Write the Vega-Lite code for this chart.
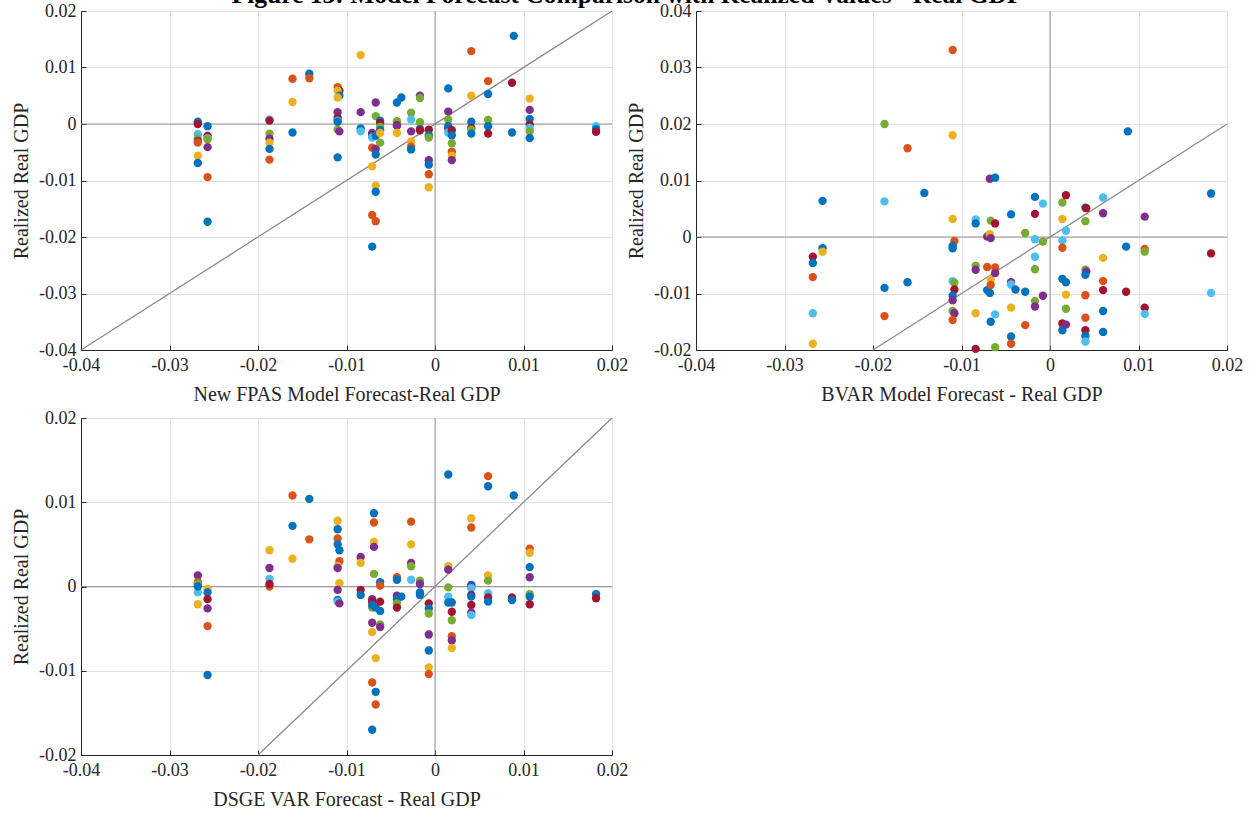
{
  "$schema": "https://vega.github.io/schema/vega-lite/v6.json",
  "background": "white",
  "padding": {"left": 11, "top": -18, "right": 5, "bottom": 5},
  "title": {"text": "Figure 13: Model Forecast Comparison with Realized Values - Real GDP", "font": "Liberation Serif", "fontSize": 25.5, "fontWeight": "bold", "color": "#000000", "anchor": "middle", "offset": -6},
  "config": {
    "view": {"stroke": null},
    "axis": {"labelFont": "Liberation Serif", "labelFontSize": 18, "labelColor": "#262626", "titleFont": "Liberation Serif", "titleFontSize": 20, "titleFontWeight": "normal", "titleColor": "#262626", "domainColor": "#262626", "tickColor": "#262626", "tickSize": -5, "gridColor": "#e2e2e2", "gridWidth": 1, "labelFlush": false, "labelExpr": "replace(format(datum.value, '.2~f'), '−', '-')"},
    "axisX": {"titlePadding": 10, "labelPadding": 11},
    "axisY": {"titlePadding": 7, "labelPadding": 10}
  },
  "datasets": {
    "p1": [
      {"x":-0.0268,"y":0.0004,"c":"b"},{"x":-0.0268,"y":0.0,"c":"r"},{"x":-0.0268,"y":-0.0018,"c":"l"},{"x":-0.0268,"y":-0.0025,"c":"g"},{"x":-0.0268,"y":-0.003,"c":"p"},{"x":-0.0268,"y":-0.0033,"c":"o"},{"x":-0.0268,"y":-0.0056,"c":"y"},{"x":-0.0268,"y":-0.0069,"c":"b"},
      {"x":-0.0257,"y":-0.0004,"c":"b"},{"x":-0.0257,"y":-0.0021,"c":"r"},{"x":-0.0257,"y":-0.0025,"c":"l"},{"x":-0.0257,"y":-0.0027,"c":"g"},{"x":-0.0257,"y":-0.0041,"c":"p"},{"x":-0.0257,"y":-0.0094,"c":"o"},{"x":-0.0257,"y":-0.0173,"c":"b"},
      {"x":-0.0187,"y":0.0008,"c":"l"},{"x":-0.0187,"y":0.0006,"c":"r"},{"x":-0.0187,"y":-0.0017,"c":"g"},{"x":-0.0187,"y":-0.0026,"c":"p"},{"x":-0.0187,"y":-0.0033,"c":"y"},{"x":-0.0187,"y":-0.0044,"c":"b"},{"x":-0.0187,"y":-0.0063,"c":"o"},
      {"x":-0.0161,"y":0.008,"c":"o"},{"x":-0.0161,"y":0.0039,"c":"y"},{"x":-0.0161,"y":-0.0015,"c":"b"},
      {"x":-0.0142,"y":0.0089,"c":"b"},{"x":-0.0142,"y":0.0081,"c":"o"},
      {"x":-0.011,"y":0.0065,"c":"o"},{"x":-0.0108,"y":0.0059,"c":"r"},{"x":-0.011,"y":0.0059,"c":"y"},{"x":-0.0108,"y":0.005,"c":"b"},{"x":-0.011,"y":0.0047,"c":"y"},{"x":-0.011,"y":0.0021,"c":"p"},{"x":-0.011,"y":0.0011,"c":"r"},{"x":-0.011,"y":0.0006,"c":"l"},{"x":-0.011,"y":0.0004,"c":"b"},{"x":-0.011,"y":-0.001,"c":"g"},{"x":-0.0108,"y":-0.0013,"c":"p"},{"x":-0.011,"y":-0.0059,"c":"b"},
      {"x":-0.0084,"y":0.0122,"c":"y"},{"x":-0.0084,"y":0.0021,"c":"p"},{"x":-0.0084,"y":-0.0008,"c":"b"},{"x":-0.0084,"y":-0.0013,"c":"l"},
      {"x":-0.0071,"y":-0.0016,"c":"p"},{"x":-0.0071,"y":-0.002,"c":"r"},{"x":-0.0071,"y":-0.0022,"c":"b"},{"x":-0.0071,"y":-0.0024,"c":"l"},{"x":-0.0071,"y":-0.0042,"c":"o"},{"x":-0.0071,"y":-0.0075,"c":"y"},{"x":-0.0071,"y":-0.0161,"c":"o"},{"x":-0.0071,"y":-0.0217,"c":"b"},
      {"x":-0.0067,"y":0.0038,"c":"p"},{"x":-0.0067,"y":0.0014,"c":"g"},{"x":-0.0067,"y":-0.0021,"c":"b"},{"x":-0.0067,"y":-0.0044,"c":"p"},{"x":-0.0067,"y":-0.0054,"c":"b"},{"x":-0.0067,"y":-0.0109,"c":"y"},{"x":-0.0067,"y":-0.012,"c":"b"},{"x":-0.0067,"y":-0.0172,"c":"o"},
      {"x":-0.0062,"y":0.0006,"c":"b"},{"x":-0.0062,"y":0.0002,"c":"r"},{"x":-0.0062,"y":-0.0005,"c":"g"},{"x":-0.0062,"y":-0.0011,"c":"b"},{"x":-0.0062,"y":-0.0016,"c":"y"},{"x":-0.0062,"y":-0.0033,"c":"g"},
      {"x":-0.0043,"y":0.0038,"c":"b"},{"x":-0.0043,"y":0.0005,"c":"g"},{"x":-0.0043,"y":-0.0002,"c":"r"},{"x":-0.0043,"y":-0.0003,"c":"p"},{"x":-0.0043,"y":-0.0016,"c":"y"},
      {"x":-0.0038,"y":0.0047,"c":"b"},
      {"x":-0.0027,"y":0.002,"c":"g"},{"x":-0.0027,"y":0.0008,"c":"l"},{"x":-0.0027,"y":-0.0013,"c":"p"},{"x":-0.0027,"y":-0.0031,"c":"y"},{"x":-0.0027,"y":-0.004,"c":"o"},{"x":-0.0027,"y":-0.0045,"c":"b"},
      {"x":-0.0017,"y":0.005,"c":"p"},{"x":-0.0017,"y":0.0046,"c":"g"},{"x":-0.0017,"y":0.0003,"c":"g"},{"x":-0.0017,"y":-0.0009,"c":"b"},{"x":-0.0017,"y":-0.0011,"c":"r"},
      {"x":-0.0007,"y":-0.001,"c":"r"},{"x":-0.0007,"y":-0.002,"c":"b"},{"x":-0.0007,"y":-0.0024,"c":"g"},{"x":-0.0007,"y":-0.0064,"c":"p"},{"x":-0.0007,"y":-0.0072,"c":"b"},{"x":-0.0007,"y":-0.0089,"c":"o"},{"x":-0.0007,"y":-0.0112,"c":"y"},
      {"x":0.0015,"y":0.0063,"c":"b"},{"x":0.0015,"y":0.0022,"c":"p"},{"x":0.0015,"y":0.0008,"c":"g"},{"x":0.0015,"y":-0.0008,"c":"r"},{"x":0.0015,"y":-0.0004,"c":"b"},{"x":0.0015,"y":-0.0015,"c":"l"},
      {"x":0.0019,"y":-0.0011,"c":"r"},{"x":0.0019,"y":-0.002,"c":"b"},{"x":0.0019,"y":-0.0034,"c":"g"},{"x":0.0019,"y":-0.0049,"c":"o"},{"x":0.0019,"y":-0.0056,"c":"y"},{"x":0.0019,"y":-0.0064,"c":"p"},
      {"x":0.0041,"y":0.0129,"c":"o"},{"x":0.0041,"y":0.005,"c":"y"},{"x":0.0041,"y":0.0004,"c":"b"},{"x":0.0041,"y":-0.0007,"c":"r"},{"x":0.0041,"y":-0.001,"c":"g"},{"x":0.0041,"y":-0.0017,"c":"b"},
      {"x":0.006,"y":0.0076,"c":"o"},{"x":0.006,"y":0.0053,"c":"b"},{"x":0.006,"y":0.0007,"c":"g"},{"x":0.006,"y":-0.0004,"c":"b"},{"x":0.006,"y":-0.0017,"c":"r"},
      {"x":0.0089,"y":0.0156,"c":"b"},{"x":0.0087,"y":0.0073,"c":"r"},{"x":0.0087,"y":-0.0015,"c":"b"},
      {"x":0.0107,"y":0.0045,"c":"y"},{"x":0.0107,"y":0.0025,"c":"p"},{"x":0.0107,"y":0.0009,"c":"b"},{"x":0.0107,"y":-0.0001,"c":"r"},{"x":0.0107,"y":-0.0007,"c":"l"},{"x":0.0107,"y":-0.0013,"c":"g"},{"x":0.0107,"y":-0.0025,"c":"b"},
      {"x":0.0182,"y":-0.0004,"c":"l"},{"x":0.0182,"y":-0.0009,"c":"b"},{"x":0.0182,"y":-0.0014,"c":"r"}
    ],
    "p2": [
      {"x":-0.0268,"y":-0.0035,"c":"r"},{"x":-0.0268,"y":-0.0046,"c":"b"},{"x":-0.0268,"y":-0.0071,"c":"o"},{"x":-0.0268,"y":-0.0135,"c":"l"},{"x":-0.0268,"y":-0.0189,"c":"y"},
      {"x":-0.0257,"y":0.0064,"c":"b"},{"x":-0.0257,"y":-0.002,"c":"b"},{"x":-0.0257,"y":-0.0026,"c":"y"},
      {"x":-0.0187,"y":0.02,"c":"g"},{"x":-0.0187,"y":0.0063,"c":"l"},{"x":-0.0187,"y":-0.009,"c":"b"},{"x":-0.0187,"y":-0.014,"c":"o"},
      {"x":-0.0161,"y":0.0157,"c":"o"},{"x":-0.0161,"y":-0.008,"c":"b"},
      {"x":-0.0142,"y":0.0078,"c":"b"},
      {"x":-0.011,"y":0.0331,"c":"o"},{"x":-0.011,"y":0.018,"c":"y"},{"x":-0.011,"y":0.0032,"c":"y"},{"x":-0.0108,"y":-0.0007,"c":"o"},{"x":-0.011,"y":-0.0016,"c":"b"},{"x":-0.011,"y":-0.002,"c":"b"},{"x":-0.011,"y":-0.0078,"c":"l"},{"x":-0.0108,"y":-0.0081,"c":"g"},{"x":-0.0108,"y":-0.0093,"c":"r"},{"x":-0.011,"y":-0.0104,"c":"b"},{"x":-0.011,"y":-0.0112,"c":"p"},{"x":-0.011,"y":-0.0131,"c":"g"},{"x":-0.0108,"y":-0.0135,"c":"p"},{"x":-0.011,"y":-0.0147,"c":"o"},
      {"x":-0.0084,"y":0.0031,"c":"l"},{"x":-0.0084,"y":0.0024,"c":"b"},{"x":-0.0084,"y":-0.0051,"c":"g"},{"x":-0.0084,"y":-0.0058,"c":"p"},{"x":-0.0084,"y":-0.0135,"c":"y"},{"x":-0.0084,"y":-0.0198,"c":"r"},
      {"x":-0.0071,"y":0.0001,"c":"p"},{"x":-0.0071,"y":-0.0053,"c":"o"},{"x":-0.0071,"y":-0.0094,"c":"b"},
      {"x":-0.0068,"y":0.0103,"c":"p"},{"x":-0.0068,"y":0.0005,"c":"y"},{"x":-0.0067,"y":0.0029,"c":"g"},{"x":-0.0067,"y":-0.0002,"c":"p"},{"x":-0.0067,"y":-0.0075,"c":"y"},{"x":-0.0067,"y":-0.0085,"c":"o"},{"x":-0.0068,"y":-0.0099,"c":"b"},{"x":-0.0067,"y":-0.015,"c":"b"},
      {"x":-0.0062,"y":0.0105,"c":"b"},{"x":-0.0062,"y":0.0024,"c":"r"},{"x":-0.0062,"y":-0.0054,"c":"o"},{"x":-0.0062,"y":-0.0064,"c":"p"},{"x":-0.0062,"y":-0.0137,"c":"l"},{"x":-0.0062,"y":-0.0195,"c":"g"},
      {"x":-0.0044,"y":0.004,"c":"b"},{"x":-0.0044,"y":-0.008,"c":"p"},{"x":-0.0044,"y":-0.0084,"c":"l"},{"x":-0.0044,"y":-0.0125,"c":"y"},{"x":-0.0044,"y":-0.0176,"c":"b"},{"x":-0.0044,"y":-0.0189,"c":"o"},
      {"x":-0.0039,"y":-0.0093,"c":"b"},
      {"x":-0.0028,"y":0.0007,"c":"g"},{"x":-0.0028,"y":-0.0097,"c":"b"},{"x":-0.0028,"y":-0.0156,"c":"o"},
      {"x":-0.0017,"y":0.0071,"c":"b"},{"x":-0.0017,"y":0.0041,"c":"r"},{"x":-0.0017,"y":-0.0004,"c":"l"},{"x":-0.0017,"y":-0.0035,"c":"l"},{"x":-0.0017,"y":-0.0057,"c":"g"},{"x":-0.0017,"y":-0.0113,"c":"g"},{"x":-0.0017,"y":-0.0123,"c":"p"},
      {"x":-0.0008,"y":0.0059,"c":"l"},{"x":-0.0008,"y":-0.0008,"c":"g"},{"x":-0.0008,"y":-0.0104,"c":"p"},
      {"x":0.0014,"y":0.0061,"c":"g"},{"x":0.0014,"y":0.0032,"c":"y"},{"x":0.0014,"y":-0.0006,"c":"l"},{"x":0.0014,"y":-0.0019,"c":"o"},{"x":0.0014,"y":-0.0074,"c":"b"},{"x":0.0014,"y":-0.0153,"c":"r"},{"x":0.0014,"y":-0.0165,"c":"b"},
      {"x":0.0018,"y":0.0074,"c":"r"},{"x":0.0018,"y":0.0011,"c":"l"},{"x":0.0018,"y":-0.008,"c":"b"},{"x":0.0018,"y":-0.0102,"c":"y"},{"x":0.0018,"y":-0.0127,"c":"g"},{"x":0.0018,"y":-0.0155,"c":"p"},
      {"x":0.004,"y":0.0052,"c":"b"},{"x":0.0041,"y":0.0051,"c":"r"},{"x":0.004,"y":0.0028,"c":"g"},{"x":0.004,"y":-0.0058,"c":"g"},{"x":0.0041,"y":-0.0061,"c":"p"},{"x":0.004,"y":-0.0067,"c":"b"},{"x":0.004,"y":-0.0103,"c":"o"},{"x":0.004,"y":-0.0143,"c":"o"},{"x":0.004,"y":-0.0165,"c":"r"},{"x":0.004,"y":-0.0175,"c":"b"},{"x":0.004,"y":-0.0185,"c":"l"},
      {"x":0.006,"y":0.007,"c":"l"},{"x":0.006,"y":0.0042,"c":"p"},{"x":0.006,"y":-0.0037,"c":"y"},{"x":0.006,"y":-0.0078,"c":"o"},{"x":0.006,"y":-0.0094,"c":"r"},{"x":0.006,"y":-0.0131,"c":"b"},{"x":0.006,"y":-0.0168,"c":"b"},
      {"x":0.0088,"y":0.0187,"c":"b"},{"x":0.0086,"y":-0.0017,"c":"b"},{"x":0.0086,"y":-0.0097,"c":"r"},
      {"x":0.0107,"y":0.0036,"c":"p"},{"x":0.0107,"y":-0.0021,"c":"o"},{"x":0.0107,"y":-0.0026,"c":"g"},{"x":0.0107,"y":-0.0125,"c":"r"},{"x":0.0107,"y":-0.0136,"c":"l"},
      {"x":0.0182,"y":0.0077,"c":"b"},{"x":0.0182,"y":-0.0029,"c":"r"},{"x":0.0182,"y":-0.0099,"c":"l"}
    ],
    "p3": [
      {"x":-0.0268,"y":0.0013,"c":"p"},{"x":-0.0268,"y":0.0005,"c":"o"},{"x":-0.0268,"y":0.0003,"c":"g"},{"x":-0.0268,"y":-0.0007,"c":"l"},{"x":-0.0268,"y":0.0,"c":"b"},{"x":-0.0268,"y":-0.0021,"c":"y"},
      {"x":-0.0257,"y":-0.0003,"c":"y"},{"x":-0.0257,"y":-0.0007,"c":"b"},{"x":-0.0257,"y":-0.0015,"c":"r"},{"x":-0.0257,"y":-0.0026,"c":"p"},{"x":-0.0257,"y":-0.0047,"c":"o"},{"x":-0.0257,"y":-0.0105,"c":"b"},
      {"x":-0.0187,"y":0.0043,"c":"y"},{"x":-0.0187,"y":0.0022,"c":"p"},{"x":-0.0187,"y":0.0009,"c":"l"},{"x":-0.0187,"y":0.0,"c":"o"},{"x":-0.0187,"y":0.0003,"c":"r"},
      {"x":-0.0161,"y":0.0108,"c":"o"},{"x":-0.0161,"y":0.0072,"c":"b"},{"x":-0.0161,"y":0.0033,"c":"y"},
      {"x":-0.0142,"y":0.0104,"c":"b"},{"x":-0.0142,"y":0.0056,"c":"o"},
      {"x":-0.011,"y":0.0078,"c":"y"},{"x":-0.011,"y":0.0068,"c":"b"},{"x":-0.011,"y":0.0057,"c":"o"},{"x":-0.011,"y":0.005,"c":"b"},{"x":-0.0108,"y":0.0043,"c":"b"},{"x":-0.0108,"y":0.003,"c":"o"},{"x":-0.011,"y":0.0024,"c":"y"},{"x":-0.011,"y":0.0022,"c":"p"},{"x":-0.0108,"y":0.0004,"c":"y"},{"x":-0.011,"y":-0.0004,"c":"p"},{"x":-0.011,"y":-0.0016,"c":"b"},{"x":-0.011,"y":-0.0018,"c":"l"},{"x":-0.0108,"y":-0.002,"c":"p"},
      {"x":-0.0084,"y":0.0035,"c":"p"},{"x":-0.0084,"y":0.0028,"c":"y"},{"x":-0.0084,"y":-0.0004,"c":"r"},{"x":-0.0084,"y":-0.001,"c":"b"},
      {"x":-0.0071,"y":-0.0015,"c":"p"},{"x":-0.0071,"y":-0.0018,"c":"r"},{"x":-0.0071,"y":-0.0025,"c":"g"},{"x":-0.0071,"y":-0.0022,"c":"b"},{"x":-0.0071,"y":-0.0043,"c":"p"},{"x":-0.0071,"y":-0.0054,"c":"y"},{"x":-0.0071,"y":-0.0114,"c":"o"},{"x":-0.0071,"y":-0.017,"c":"b"},
      {"x":-0.0069,"y":0.0087,"c":"b"},{"x":-0.0069,"y":0.0076,"c":"o"},{"x":-0.0069,"y":0.0053,"c":"y"},{"x":-0.0069,"y":0.0047,"c":"p"},{"x":-0.0069,"y":0.0015,"c":"g"},{"x":-0.0067,"y":-0.0025,"c":"b"},{"x":-0.0067,"y":-0.0085,"c":"y"},{"x":-0.0067,"y":-0.0125,"c":"b"},{"x":-0.0067,"y":-0.014,"c":"o"},
      {"x":-0.0062,"y":0.0005,"c":"b"},{"x":-0.0062,"y":0.0001,"c":"o"},{"x":-0.0062,"y":-0.0018,"c":"r"},{"x":-0.0062,"y":-0.0029,"c":"b"},{"x":-0.0062,"y":-0.0045,"c":"g"},{"x":-0.0062,"y":-0.0048,"c":"p"},
      {"x":-0.0043,"y":0.0011,"c":"o"},{"x":-0.0043,"y":0.0008,"c":"b"},{"x":-0.0043,"y":-0.0011,"c":"p"},{"x":-0.0043,"y":-0.0015,"c":"b"},{"x":-0.0043,"y":-0.002,"c":"g"},{"x":-0.0043,"y":-0.0025,"c":"r"},
      {"x":-0.0038,"y":-0.0012,"c":"b"},
      {"x":-0.0027,"y":0.0077,"c":"o"},{"x":-0.0027,"y":0.005,"c":"y"},{"x":-0.0027,"y":0.0028,"c":"p"},{"x":-0.0027,"y":0.0024,"c":"g"},{"x":-0.0027,"y":0.0008,"c":"l"},
      {"x":-0.0017,"y":0.0007,"c":"g"},{"x":-0.0017,"y":0.0003,"c":"p"},{"x":-0.0017,"y":-0.0007,"c":"b"},{"x":-0.0017,"y":-0.001,"c":"b"},
      {"x":-0.0007,"y":-0.002,"c":"r"},{"x":-0.0007,"y":-0.0026,"c":"b"},{"x":-0.0007,"y":-0.0032,"c":"g"},{"x":-0.0007,"y":-0.0057,"c":"p"},{"x":-0.0007,"y":-0.0076,"c":"b"},{"x":-0.0007,"y":-0.0096,"c":"y"},{"x":-0.0007,"y":-0.0104,"c":"o"},
      {"x":0.0015,"y":0.0133,"c":"b"},{"x":0.0015,"y":0.0024,"c":"y"},{"x":0.0015,"y":0.002,"c":"p"},{"x":0.0015,"y":-0.0001,"c":"g"},{"x":0.0015,"y":-0.0012,"c":"l"},{"x":0.0015,"y":-0.0019,"c":"b"},
      {"x":0.0019,"y":-0.0019,"c":"b"},{"x":0.0019,"y":-0.003,"c":"r"},{"x":0.0019,"y":-0.004,"c":"g"},{"x":0.0019,"y":-0.0059,"c":"o"},{"x":0.0019,"y":-0.0064,"c":"p"},{"x":0.0019,"y":-0.0073,"c":"y"},
      {"x":0.0041,"y":0.0081,"c":"y"},{"x":0.0041,"y":0.007,"c":"o"},{"x":0.0041,"y":0.0002,"c":"b"},{"x":0.0041,"y":0.0,"c":"p"},{"x":0.0041,"y":-0.0002,"c":"l"},{"x":0.0041,"y":-0.001,"c":"r"},{"x":0.0041,"y":-0.0012,"c":"b"},{"x":0.0041,"y":-0.0022,"c":"r"},{"x":0.0041,"y":-0.0031,"c":"p"},{"x":0.0041,"y":-0.0034,"c":"l"},
      {"x":0.006,"y":0.0131,"c":"o"},{"x":0.006,"y":0.0119,"c":"b"},{"x":0.006,"y":0.0013,"c":"y"},{"x":0.006,"y":0.0007,"c":"g"},{"x":0.006,"y":-0.0008,"c":"l"},{"x":0.006,"y":-0.0013,"c":"r"},{"x":0.006,"y":-0.0018,"c":"b"},
      {"x":0.0089,"y":0.0108,"c":"b"},{"x":0.0087,"y":-0.0013,"c":"r"},{"x":0.0087,"y":-0.0016,"c":"b"},
      {"x":0.0107,"y":0.0045,"c":"o"},{"x":0.0107,"y":0.004,"c":"y"},{"x":0.0107,"y":0.0023,"c":"b"},{"x":0.0107,"y":0.0011,"c":"p"},{"x":0.0107,"y":-0.0009,"c":"g"},{"x":0.0107,"y":-0.0012,"c":"b"},{"x":0.0107,"y":-0.0021,"c":"r"},
      {"x":0.0182,"y":-0.0009,"c":"b"},{"x":0.0182,"y":-0.0014,"c":"r"}
    ]
  },
  "columns": 2,
  "spacing": {"column": -2, "row": 5},
  "concat": [
    {
      "width": 531, "height": 339,
      "layer": [
        {"data": {"values": [{"x": 0}]}, "mark": {"type": "rule", "color": "#7f7f7f", "strokeWidth": 0.8}, "encoding": {"x": {"field": "x", "type": "quantitative"}}},
        {"data": {"values": [{"y": 0}]}, "mark": {"type": "rule", "color": "#7f7f7f", "strokeWidth": 0.8}, "encoding": {"y": {"field": "y", "type": "quantitative"}}},
        {"data": {"values": [{"x": -0.04, "y": -0.04, "x2": 0.02, "y2": 0.02}]}, "mark": {"type": "rule", "color": "#8a8a8a", "strokeWidth": 1.3}, "encoding": {"x": {"field": "x", "type": "quantitative"}, "y": {"field": "y", "type": "quantitative"}, "x2": {"field": "x2"}, "y2": {"field": "y2"}}},
        {"data": {"name": "p1"}, "mark": {"type": "circle", "size": 70, "opacity": 1},
         "encoding": {
           "x": {"field": "x", "type": "quantitative", "scale": {"domain": [-0.04, 0.02], "nice": false, "zero": false}, "axis": {"title": "New FPAS Model Forecast-Real GDP", "values": [-0.04, -0.03, -0.02, -0.01, 0, 0.01, 0.02]}},
           "y": {"field": "y", "type": "quantitative", "scale": {"domain": [-0.04, 0.02], "nice": false, "zero": false}, "axis": {"title": "Realized Real GDP", "values": [-0.04, -0.03, -0.02, -0.01, 0, 0.01, 0.02]}},
           "color": {"field": "c", "type": "nominal", "legend": null, "scale": {"domain": ["b", "o", "y", "p", "g", "l", "r"], "range": ["#0072BD", "#D95319", "#EDB120", "#7E2F8E", "#77AC30", "#4DBEEE", "#A2142F"]}}
         }}
      ]
    },
    {
      "width": 531, "height": 339,
      "layer": [
        {"data": {"values": [{"x": 0}]}, "mark": {"type": "rule", "color": "#7f7f7f", "strokeWidth": 0.8}, "encoding": {"x": {"field": "x", "type": "quantitative"}}},
        {"data": {"values": [{"y": 0}]}, "mark": {"type": "rule", "color": "#7f7f7f", "strokeWidth": 0.8}, "encoding": {"y": {"field": "y", "type": "quantitative"}}},
        {"data": {"values": [{"x": -0.02, "y": -0.02, "x2": 0.02, "y2": 0.02}]}, "mark": {"type": "rule", "color": "#8a8a8a", "strokeWidth": 1.3}, "encoding": {"x": {"field": "x", "type": "quantitative"}, "y": {"field": "y", "type": "quantitative"}, "x2": {"field": "x2"}, "y2": {"field": "y2"}}},
        {"data": {"name": "p2"}, "mark": {"type": "circle", "size": 70, "opacity": 1},
         "encoding": {
           "x": {"field": "x", "type": "quantitative", "scale": {"domain": [-0.04, 0.02], "nice": false, "zero": false}, "axis": {"title": "BVAR Model Forecast - Real GDP", "values": [-0.04, -0.03, -0.02, -0.01, 0, 0.01, 0.02]}},
           "y": {"field": "y", "type": "quantitative", "scale": {"domain": [-0.02, 0.04], "nice": false, "zero": false}, "axis": {"title": "Realized Real GDP", "values": [-0.02, -0.01, 0, 0.01, 0.02, 0.03, 0.04]}},
           "color": {"field": "c", "type": "nominal", "legend": null, "scale": {"domain": ["b", "o", "y", "p", "g", "l", "r"], "range": ["#0072BD", "#D95319", "#EDB120", "#7E2F8E", "#77AC30", "#4DBEEE", "#A2142F"]}}
         }}
      ]
    },
    {
      "width": 531, "height": 337,
      "layer": [
        {"data": {"values": [{"x": 0}]}, "mark": {"type": "rule", "color": "#7f7f7f", "strokeWidth": 0.8}, "encoding": {"x": {"field": "x", "type": "quantitative"}}},
        {"data": {"values": [{"y": 0}]}, "mark": {"type": "rule", "color": "#7f7f7f", "strokeWidth": 0.8}, "encoding": {"y": {"field": "y", "type": "quantitative"}}},
        {"data": {"values": [{"x": -0.02, "y": -0.02, "x2": 0.02, "y2": 0.02}]}, "mark": {"type": "rule", "color": "#8a8a8a", "strokeWidth": 1.3}, "encoding": {"x": {"field": "x", "type": "quantitative"}, "y": {"field": "y", "type": "quantitative"}, "x2": {"field": "x2"}, "y2": {"field": "y2"}}},
        {"data": {"name": "p3"}, "mark": {"type": "circle", "size": 70, "opacity": 1},
         "encoding": {
           "x": {"field": "x", "type": "quantitative", "scale": {"domain": [-0.04, 0.02], "nice": false, "zero": false}, "axis": {"title": "DSGE VAR Forecast - Real GDP", "values": [-0.04, -0.03, -0.02, -0.01, 0, 0.01, 0.02]}},
           "y": {"field": "y", "type": "quantitative", "scale": {"domain": [-0.02, 0.02], "nice": false, "zero": false}, "axis": {"title": "Realized Real GDP", "values": [-0.02, -0.01, 0, 0.01, 0.02]}},
           "color": {"field": "c", "type": "nominal", "legend": null, "scale": {"domain": ["b", "o", "y", "p", "g", "l", "r"], "range": ["#0072BD", "#D95319", "#EDB120", "#7E2F8E", "#77AC30", "#4DBEEE", "#A2142F"]}}
         }}
      ]
    }
  ]
}
